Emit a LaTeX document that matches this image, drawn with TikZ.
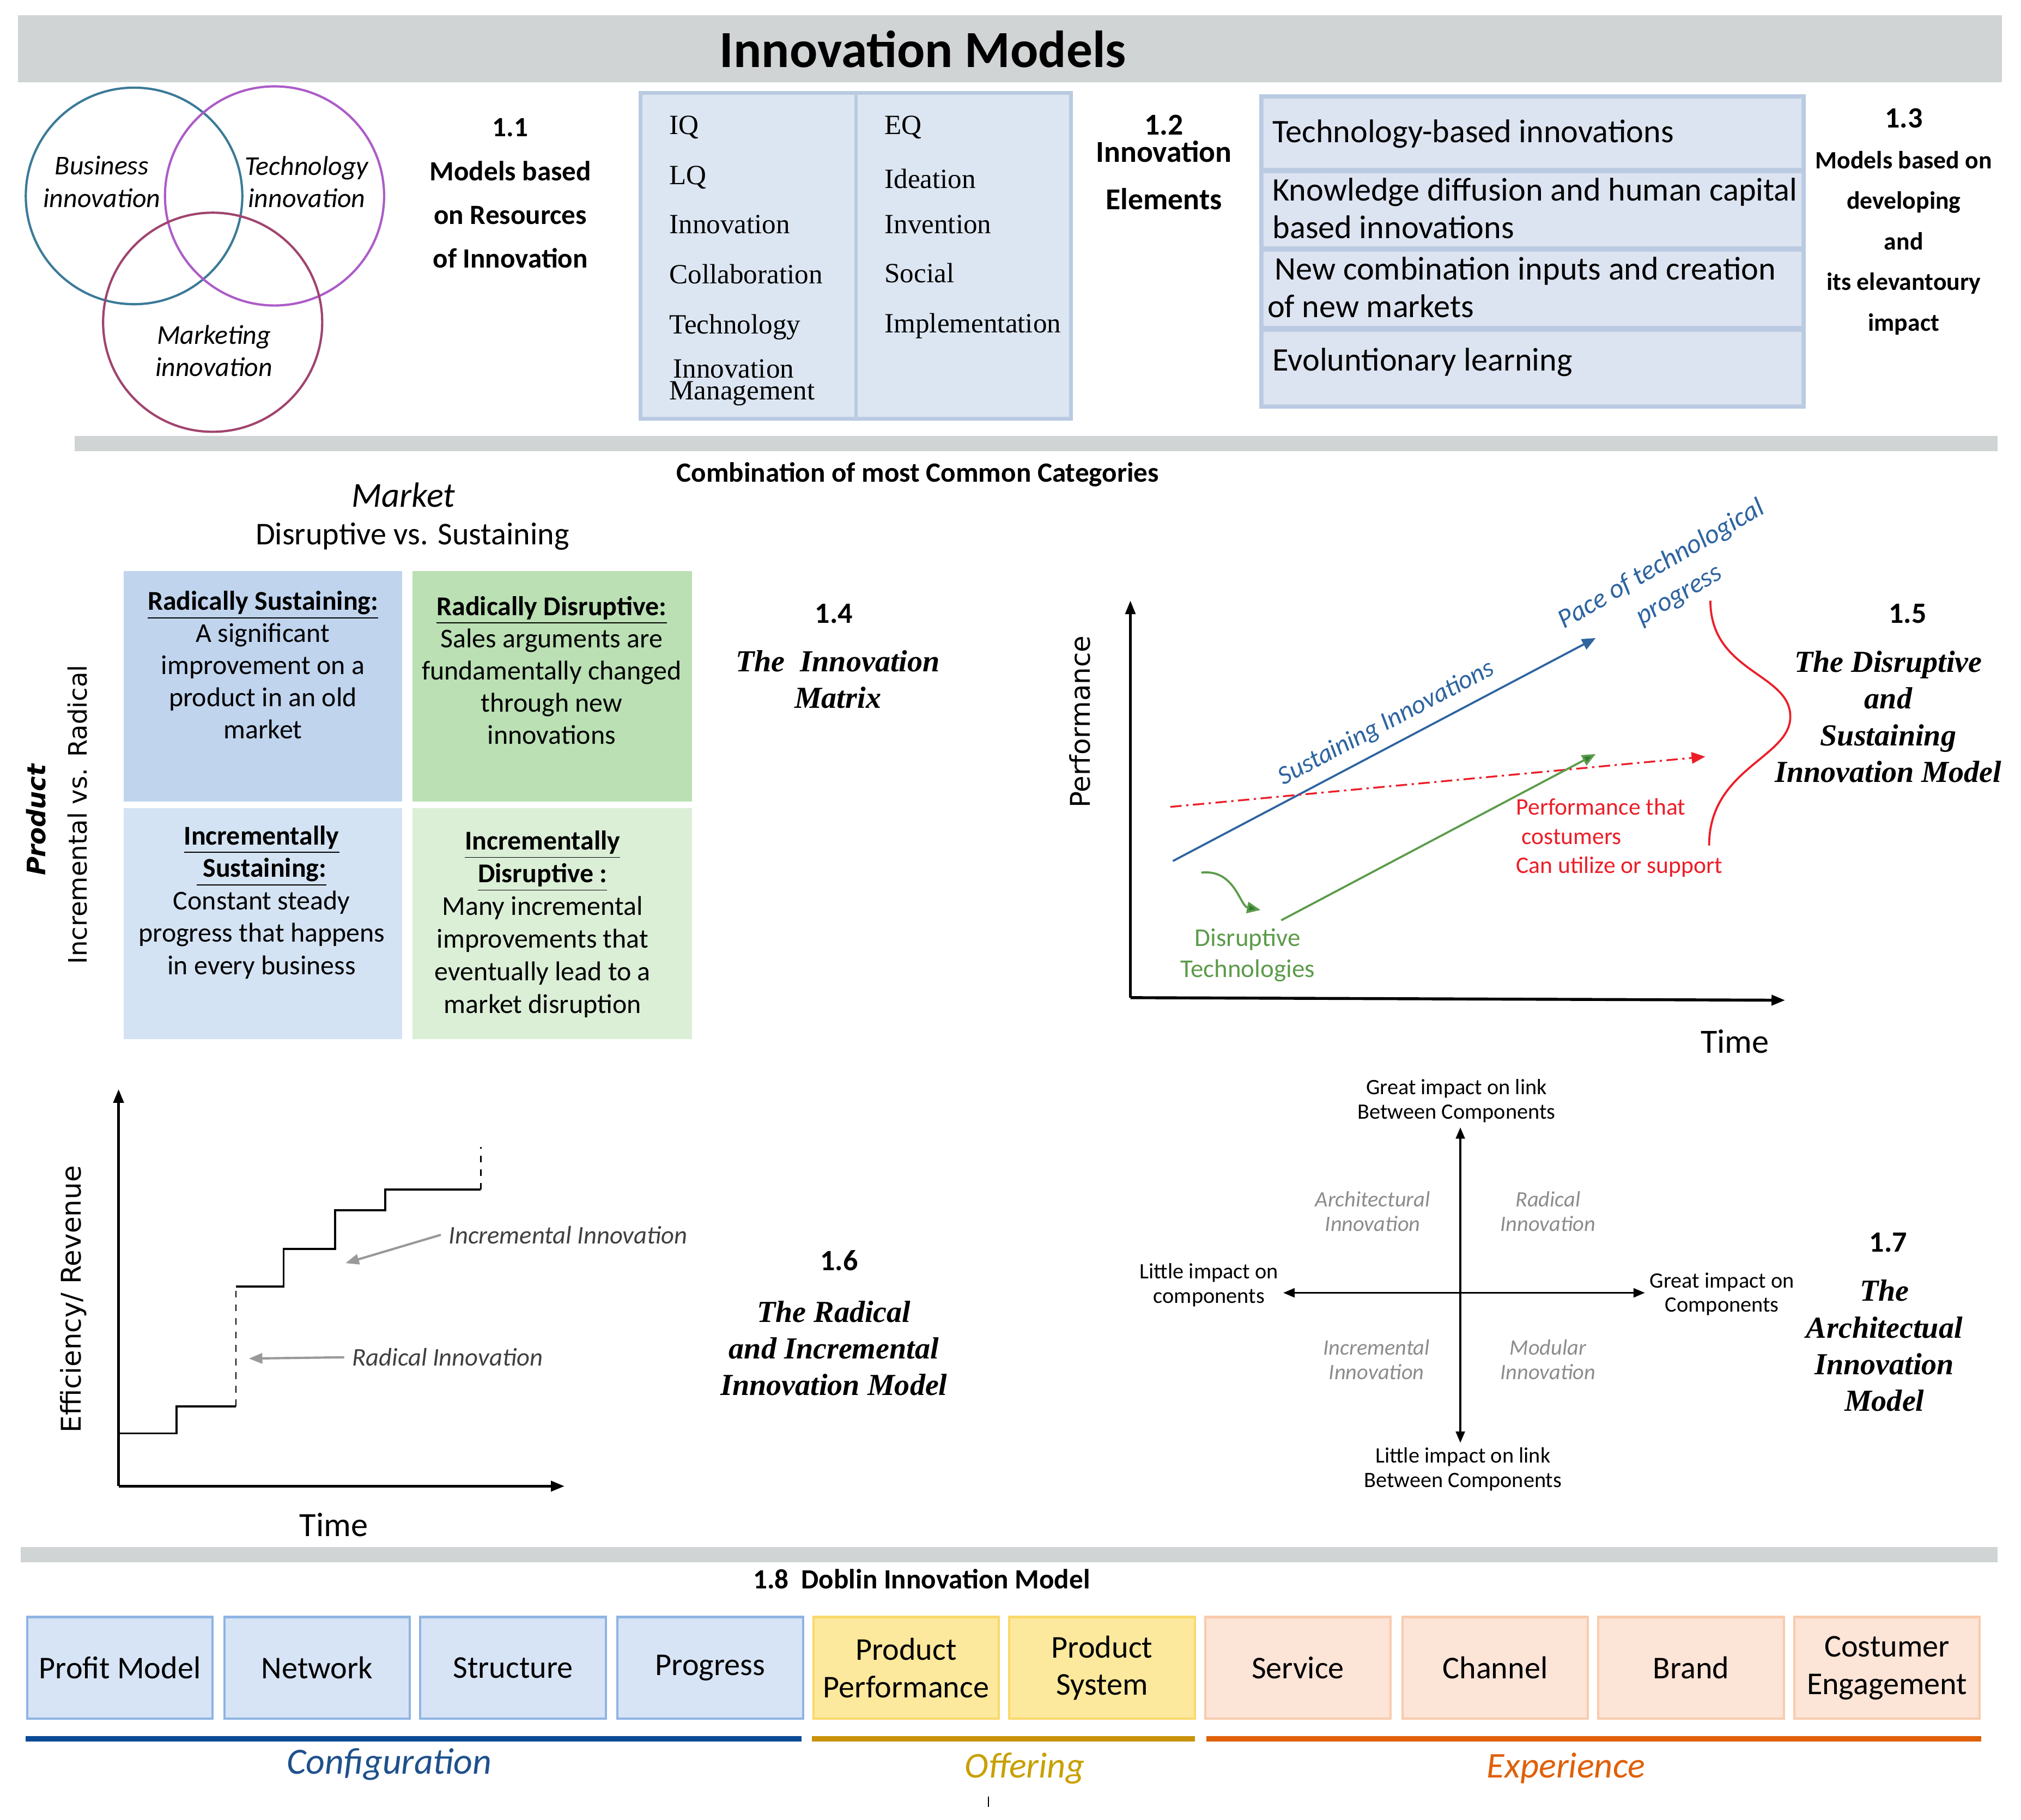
\documentclass[tikz,border=0pt]{standalone}
\usepackage{fontspec}
\setmainfont{Carlito}
\newfontfamily\timesfont{Liberation Serif}
\newfontfamily\gothfont{DejaVu Sans}
\usetikzlibrary{arrows.meta}

\definecolor{bargray}{RGB}{209,212,212}
\definecolor{vennblue}{RGB}{60,122,152}
\definecolor{vennpurple}{RGB}{172,92,200}
\definecolor{vennred}{RGB}{160,68,110}
\definecolor{tabfill}{RGB}{220,230,242}
\definecolor{tabline}{RGB}{185,202,226}
\definecolor{rowfill}{RGB}{221,228,241}
\definecolor{rowline}{RGB}{190,204,224}
\definecolor{qtl}{RGB}{192,212,238}
\definecolor{qtr}{RGB}{186,224,180}
\definecolor{qbl}{RGB}{212,227,243}
\definecolor{qbr}{RGB}{219,239,215}
\definecolor{susblue}{RGB}{46,100,160}
\definecolor{disgreen}{RGB}{92,155,74}
\definecolor{arrgreen}{RGB}{46,125,50}
\definecolor{perfred}{RGB}{235,30,40}
\definecolor{quadgray}{RGB}{140,140,140}
\definecolor{cfgfill}{RGB}{215,228,245}
\definecolor{cfgline}{RGB}{142,180,227}
\definecolor{offfill}{RGB}{253,233,157}
\definecolor{offline}{RGB}{250,216,107}
\definecolor{expfill}{RGB}{252,228,214}
\definecolor{expline}{RGB}{248,203,173}
\definecolor{cfgbar}{RGB}{10,74,150}
\definecolor{offbar}{RGB}{201,146,10}
\definecolor{expbar}{RGB}{224,96,10}
\definecolor{cfgtext}{RGB}{30,80,140}
\definecolor{offtext}{RGB}{200,160,0}

\tikzset{
  hdtext/.style={font=\bfseries\fontsize{12.3}{19.3}\selectfont, align=center},
  numtext/.style={font=\bfseries\fontsize{13}{15}\selectfont},
  mtitle/.style={font=\timesfont\bfseries\itshape\fontsize{13.5}{16.2}\selectfont, align=center},
  venntext/.style={font=\itshape\fontsize{12}{14.2}\selectfont, align=center},
  iqtext/.style={font=\timesfont\fontsize{12.3}{14}\selectfont, anchor=west, inner sep=0pt, text height=1.5ex, text depth=0.3ex},
  rowtext/.style={font=\fontsize{14.5}{16.5}\selectfont, anchor=west, align=left, inner sep=0pt},
  celltext/.style={font=\fontsize{12}{14.2}\selectfont, align=center},
  axisline/.style={line width=1pt, -{Triangle[length=6pt,width=4.5pt]}},
  axislbl/.style={font=\gothfont\fontsize{12}{14}\selectfont},
  smalltext/.style={font=\fontsize{9.7}{10.8}\selectfont, align=center, inner sep=2pt},
  quadtext/.style={font=\itshape\fontsize{9.7}{10.8}\selectfont, align=center, text=quadgray},
  dbox/.style={minimum width=28.8mm, minimum height=15.8mm, line width=1pt, font=\fontsize{14}{16.5}\selectfont, align=center, inner sep=1pt},
  cfgbox/.style={dbox, fill=cfgfill, draw=cfgline},
  offbox/.style={dbox, fill=offfill, draw=offline},
  expbox/.style={dbox, fill=expfill, draw=expline},
  grayarr/.style={draw=gray!80, line width=1pt, -{Triangle[length=6pt,width=4.5pt]}}
}

\begin{document}
\begin{tikzpicture}[x=0.2mm, y=-0.2mm]
\useasboundingbox (0,0) rectangle (1568,1412);

% title bar
\fill[bargray] (14,12) rectangle (1553,64);
\node[font=\bfseries\fontsize{23}{27}\selectfont] (title) at (716,38) {Innovation Models};

% 1.1 venn
\draw[vennblue, line width=1pt] (104,152) circle [radius=16.8mm];
\draw[vennpurple, line width=1pt] (213,152) circle [radius=17mm];
\draw[vennred, line width=1pt] (165,250) circle [radius=17mm];
\node[venntext] (bus) at (79,141) {Business\\innovation};
\node[venntext] (tec) at (238,141) {Technology\\innovation};
\node[venntext] (mar) at (166,272) {Marketing\\innovation};
\node[hdtext] (h11) at (396,150) {1.1\\Models based\\on Resources\\of Innovation};

% 1.2 elements table
\draw[fill=tabfill, draw=tabline, line width=1.6pt] (497,72) rectangle (831,325);
\draw[tabline, line width=1.4pt] (664,72) -- (664,325);
\foreach \t/\yy [count=\i] in {IQ/99, LQ/138, Innovation/176, Collaboration/215, Technology/254}
  \node[iqtext] (iql\i) at (519,\yy) {\t};
\node[iqtext] (iql6) at (522,288) {Innovation};
\node[iqtext] (iql7) at (519,305) {Management};
\foreach \t/\yy [count=\i] in {EQ/99, Ideation/141, Invention/176, Social/214, Implementation/253}
  \node[iqtext] (iqr\i) at (686,\yy) {\t};
\node[hdtext, font=\bfseries\fontsize{13.4}{15}\selectfont] (h12) at (903,126) {1.2\\[-3pt]Innovation\\[6pt]Elements};

% 1.3 rows
\fill[tabline] (977,73) rectangle (1401,317);
\draw[fill=rowfill, draw=rowline] (980,76) rectangle (1398,130.5);
\draw[fill=rowfill, draw=rowline] (980,134) rectangle (1398,191.5);
\draw[fill=rowfill, draw=rowline] (980,195) rectangle (1398,253);
\draw[fill=rowfill, draw=rowline] (980,257) rectangle (1398,314);
\node[rowtext] (row1) at (987,104) {Technology-based innovations};
\node[rowtext] (row2) at (987,161.5) {Knowledge diffusion and human capital\\based innovations};
\node[rowtext] (row3) at (983,223) {\ New combination inputs and creation\\of new markets};
\node[rowtext] (row4) at (987,281) {Evoluntionary learning};
\node[hdtext, font=\bfseries\fontsize{11}{17.9}\selectfont] (h13) at (1477,172) {{\fontsize{13}{15}\selectfont 1.3}\\Models based on\\developing\\and\\its elevantoury\\impact};

% second bar
\fill[bargray] (58,338) rectangle (1550,350);
\node[hdtext] (comb) at (712,368) {Combination of most Common Categories};

% 1.4 innovation matrix
\node[font=\itshape\fontsize{15.5}{17}\selectfont] (mkt) at (313,384) {Market};
\node[font=\fontsize{14}{16}\selectfont] (dvs) at (320,416) {Disruptive vs. Sustaining};
\fill[qtl] (96,443) rectangle (312,622);
\fill[qtr] (320,443) rectangle (537,622);
\fill[qbl] (96,627) rectangle (312,806);
\fill[qbr] (320,627) rectangle (537,806);
\node[celltext] (rsus) at (204,516) {\underline{\textbf{Radically Sustaining:}}\\A significant\\improvement on a\\product in an old\\market};
\node[celltext] (rdis) at (428,520) {\underline{\textbf{Radically Disruptive:}}\\Sales arguments are\\fundamentally changed\\through new\\innovations};
\node[celltext, font=\fontsize{12}{14.3}\selectfont] (isus) at (203,700) {\underline{\textbf{Incrementally}}\\\underline{\textbf{\ Sustaining:}}\\Constant steady\\progress that happens\\in every business};
\node[celltext, font=\fontsize{12}{14.4}\selectfont] (idis) at (421,717) {\underline{\textbf{Incrementally}}\\\underline{\textbf{Disruptive :}}\\Many incremental\\improvements that\\eventually lead to a\\market disruption};
\node[rotate=90, font=\gothfont\bfseries\itshape\fontsize{11.2}{13}\selectfont] (prod) at (28,636) {Product};
\node[rotate=90, font=\gothfont\fontsize{11.2}{13}\selectfont] (irad) at (60,632) {Incremental vs. Radical};
\node[numtext] (n14) at (647,476) {1.4};
\node[mtitle] (t14) at (650,527) {The~~Innovation\\Matrix};

% 1.5 disruptive and sustaining
\coordinate (o5) at (877,774);
\coordinate (y5) at (877,466);
\coordinate (x5) at (1385,776);
\draw[axisline] (o5) -- (y5);
\draw[axisline, line width=1.3pt] (o5) -- (x5);
\node[axislbl, rotate=90] (perf) at (838,560) {Performance};
\node[font=\fontsize{15}{17}\selectfont] (time5) at (1346,808) {Time};
\coordinate (s0) at (910,668);
\coordinate (s1) at (1238,495);
\draw[susblue, line width=0.9pt, -{Triangle[length=6pt,width=5pt]}] (s0) -- (s1)
  node[pos=0.53, sloped, above=1pt, font=\itshape\fontsize{11.6}{13}\selectfont] (susL) {Sustaining Innovations};
\node[rotate=30, align=center, text=susblue, font=\itshape\fontsize{12}{15.5}\selectfont] (pace) at (1296,450) {Pace of technological\\progress};
\coordinate (p0) at (908,626);
\coordinate (p1) at (1323,587);
\draw[perfred, line width=0.8pt, dash pattern=on 5pt off 2pt on 1pt off 2pt, -{Triangle[length=6pt,width=5pt]}] (p0) -- (p1);
\coordinate (g0) at (994,714);
\coordinate (g1) at (1238,585);
\draw[disgreen, line width=0.9pt, -{Triangle[length=6pt,width=5pt,fill=arrgreen]}] (g0) -- (g1);
\coordinate (c0) at (932,677);
\coordinate (c1) at (978,706);
\draw[disgreen, line width=0.9pt, -{Triangle[length=6pt,width=5pt,fill=arrgreen]}] (c0) .. controls (958,674) and (962,703) .. (c1);
\node[align=center, text=disgreen, font=\fontsize{11.3}{13.7}\selectfont] (distech) at (968,741) {Disruptive\\Technologies};
\node[anchor=west, align=left, inner sep=0pt, text=perfred, font=\fontsize{10.5}{12.8}\selectfont] (perfL) at (1176,650) {Performance that\\\ costumers\\Can utilize or support};
\coordinate (r0) at (1327,466);
\coordinate (r1) at (1389,556);
\coordinate (r2) at (1326,656);
\draw[perfred, line width=0.9pt] (r0) .. controls (1327,522) and (1389,522) .. (r1) .. controls (1389,588) and (1326,596) .. (r2);
\node[numtext] (n15) at (1480,476) {1.5};
\node[mtitle] (t15) at (1465,556) {The Disruptive\\and\\Sustaining\\Innovation Model};

% 1.6 radical and incremental
\coordinate (o6) at (92,1153);
\coordinate (y6) at (92,845);
\coordinate (x6) at (438,1153);
\draw[axisline, line width=1.2pt] (o6) -- (y6);
\draw[axisline, line width=1.2pt] (o6) -- (x6);
\draw[line width=0.9pt] (92,1112) -- (137,1112) -- (137,1091) -- (183,1091);
\draw[line width=0.6pt, dashed] (183,1091) -- (183,998);
\draw[line width=0.9pt] (183,998) -- (220,998) -- (220,969) -- (260,969) -- (260,939) -- (299,939) -- (299,923) -- (373,923);
\draw[line width=0.6pt, dashed] (373,923) -- (373,890);
\coordinate (ia1) at (268,980);
\coordinate (ra1) at (193,1054);
\node[anchor=west, text=black!75, font=\itshape\fontsize{11.2}{13}\selectfont] (incL) at (342,958) {Incremental Innovation};
\node[anchor=west, text=black!75, font=\itshape\fontsize{11.2}{13}\selectfont] (radL) at (267,1053) {Radical Innovation};
\draw[grayarr] (incL.west) -- (ia1);
\draw[grayarr] (radL.west) -- (ra1);
\node[axislbl, rotate=90] (eff) at (57,1008) {Efficiency/ Revenue};
\node[font=\fontsize{15}{17}\selectfont] (time6) at (259,1183) {Time};
\node[numtext] (n16) at (651,978) {1.6};
\node[mtitle] (t16) at (647,1046) {The Radical\\and Incremental\\Innovation Model};

% 1.7 architectural
\coordinate (c7) at (1133,1003);
\node[smalltext] (top7) at (1130,854) {Great impact on link\\Between Components};
\node[smalltext] (bot7) at (1135,1140) {Little impact on link\\Between Components};
\node[smalltext] (lft7) at (938,997) {Little impact on\\components};
\node[smalltext] (rgt7) at (1336,1004) {Great impact on\\Components};
\draw[line width=0.8pt, {Triangle[length=5pt,width=4pt]}-{Triangle[length=5pt,width=4pt]}] (bot7.north -| c7) -- (top7.south -| c7);
\draw[line width=0.8pt, {Triangle[length=5pt,width=4pt]}-{Triangle[length=5pt,width=4pt]}] (lft7.east |- c7) -- (rgt7.west |- c7);
\node[quadtext] (arch) at (1065,940) {Architectural\\Innovation};
\node[quadtext] (radq) at (1201,940) {Radical\\Innovation};
\node[quadtext] (incq) at (1068,1055) {Incremental\\Innovation};
\node[quadtext] (modq) at (1201,1055) {Modular\\Innovation};
\node[numtext] (n17) at (1465,964) {1.7};
\node[mtitle] (t17) at (1462,1044) {The\\Architectual\\Innovation\\Model};

% 1.8 doblin
\fill[bargray] (16,1200) rectangle (1550,1212);
\node[hdtext] (h18) at (715,1225) {1.8~ Doblin Innovation Model};
\foreach \cx/\lbl/\kind [count=\i] in {93/Profit Model/cfgbox, 246/Network/cfgbox, 398/Structure/cfgbox, 551/Progress/cfgbox, 703/{Product\\Performance}/offbox, 855/{Product\\System}/offbox, 1007/Service/expbox, 1160/Channel/expbox, 1312/Brand/expbox, 1464/{Costumer\\Engagement}/expbox}
  \node[\kind] (db\i) at (\cx,1294) {\lbl};
\draw[cfgbar, line width=2.2pt] (20,1349) -- (622,1349);
\draw[offbar, line width=2.2pt] (630,1349) -- (927,1349);
\draw[expbar, line width=2.2pt] (936,1349) -- (1537,1349);
\node[text=cfgtext, font=\itshape\fontsize{16.3}{18}\selectfont] (cfg) at (302,1369) {Configuration};
\node[text=offtext, font=\itshape\fontsize{16}{18}\selectfont] (off) at (795,1372) {Offering};
\node[text=expbar, font=\itshape\fontsize{16}{18}\selectfont] (exp) at (1215,1372) {Experience};
\draw (767,1394) -- (767,1402);

\end{tikzpicture}
\end{document}
